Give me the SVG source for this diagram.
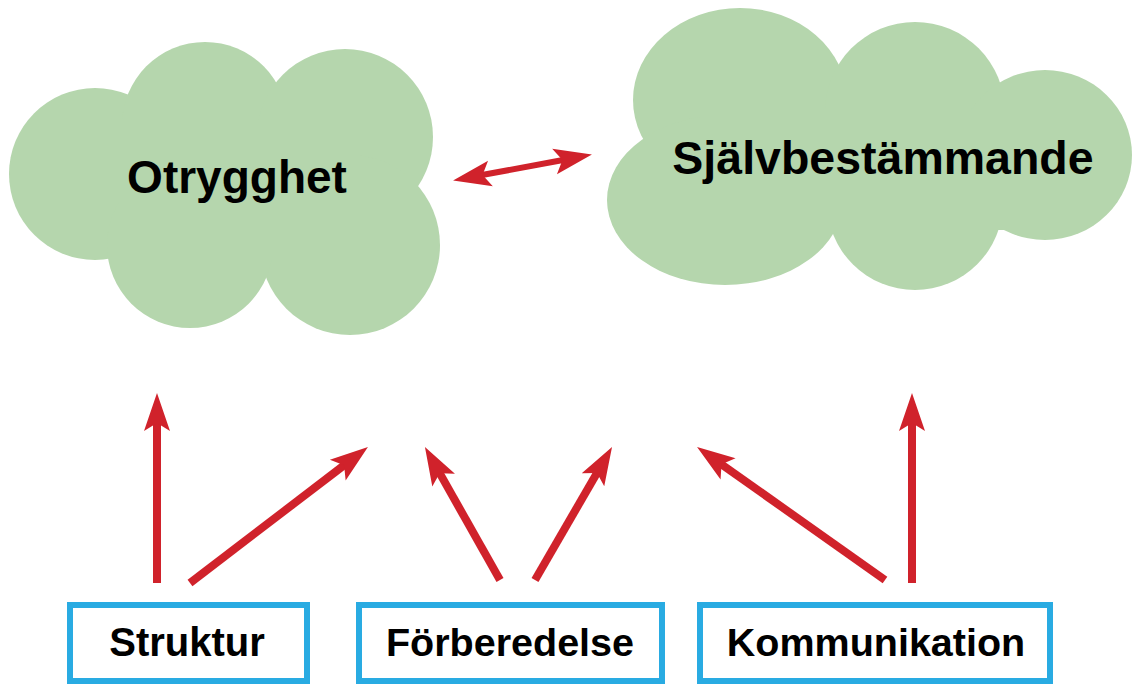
<svg xmlns="http://www.w3.org/2000/svg" width="1134" height="684" viewBox="0 0 1134 684">
<style>
.cloud{fill:#b5d6ad}
.lbl{font-family:"Liberation Sans",Arial,sans-serif;font-weight:bold;fill:#000;text-anchor:middle}
.box{fill:#fff;stroke:#29abe2;stroke-width:6}
.arr{stroke:#d0222b;stroke-width:8;fill:none;marker-end:url(#head)}
</style>
<defs>
<marker id="head" markerUnits="userSpaceOnUse" markerWidth="50" markerHeight="40" viewBox="-5 -20 50 40" refX="10" refY="0" orient="auto-start-reverse">
<path d="M0,-13 L38,0 L0,13 L8,0 Z" fill="#d0222b"/>
</marker>
</defs>
<rect width="1134" height="684" fill="#fff"/>
<g id="otrygghet">
<circle class="cloud" cx="95" cy="174" r="86"/>
<circle class="cloud" cx="205" cy="125" r="83"/>
<circle class="cloud" cx="345" cy="137" r="88"/>
<circle class="cloud" cx="350" cy="245" r="90"/>
<circle class="cloud" cx="190" cy="245" r="83"/>
<rect class="cloud" x="120" y="120" width="240" height="140"/>
<text class="lbl" x="237" y="193" font-size="46">Otrygghet</text>
</g>
<g id="sjalvbestammande">
<ellipse class="cloud" cx="740" cy="100" rx="107" ry="92"/>
<circle class="cloud" cx="915" cy="112" r="90"/>
<ellipse class="cloud" cx="1045" cy="155" rx="87" ry="85"/>
<circle class="cloud" cx="915" cy="202" r="88"/>
<ellipse class="cloud" cx="725" cy="200" rx="118" ry="85"/>
<rect class="cloud" x="700" y="110" width="330" height="120"/>
<text class="lbl" x="883" y="174" font-size="46.5">Självbestämmande</text>
</g>
<g id="struktur">
<rect class="box" x="70" y="605" width="237" height="76"/>
<text class="lbl" x="187" y="656" font-size="40">Struktur</text>
</g>
<g id="forberedelse">
<rect class="box" x="359" y="605" width="303" height="76"/>
<text class="lbl" x="510" y="656" font-size="39.5">Förberedelse</text>
</g>
<g id="kommunikation">
<rect class="box" x="700" y="605" width="350" height="76"/>
<text class="lbl" x="876" y="656" font-size="39.5">Kommunikation</text>
</g>
<g id="connectors">
<line class="arr" x1="480.6" y1="175.3" x2="564.4" y2="159.7" style="stroke-width:6;marker-start:url(#head)"/>
<line class="arr" x1="157" y1="583" x2="157" y2="421"/>
<line class="arr" x1="190" y1="583" x2="345.7" y2="464"/>
<line class="arr" x1="500" y1="580" x2="438.7" y2="471.4"/>
<line class="arr" x1="535" y1="580" x2="598" y2="471.2"/>
<line class="arr" x1="885" y1="580" x2="719.9" y2="463.2"/>
<line class="arr" x1="912" y1="583" x2="912" y2="421"/>
</g>
</svg>
